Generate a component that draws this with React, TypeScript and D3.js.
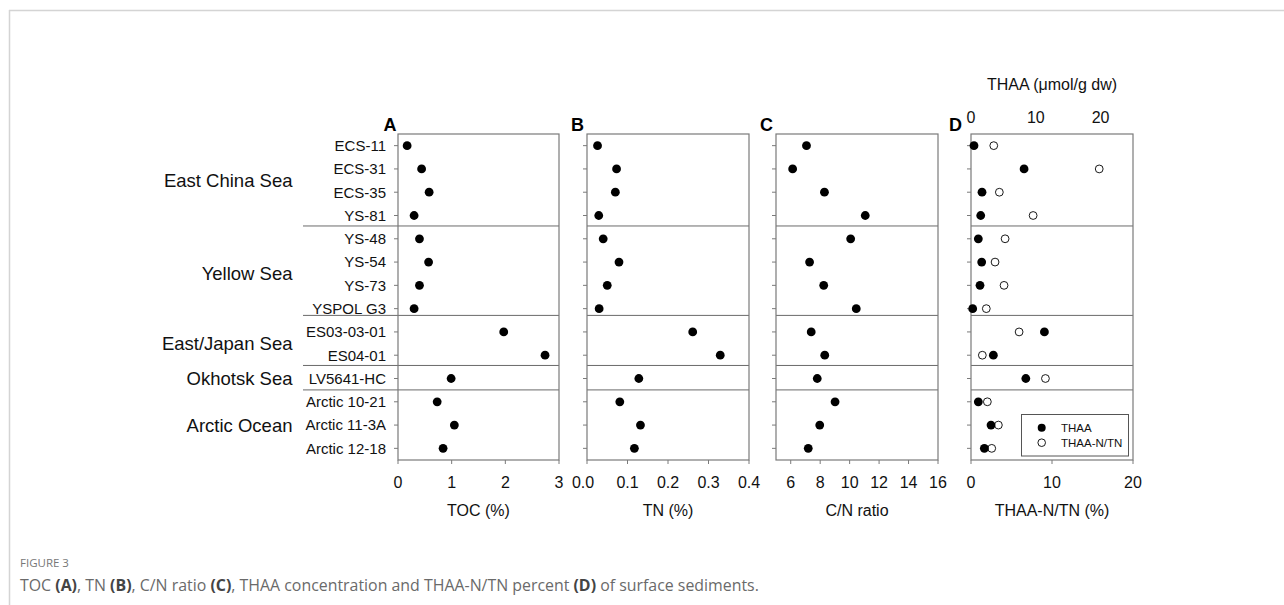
import React from "react";
import * as d3 from "d3";

const stations = [
  "ECS-11", "ECS-31", "ECS-35", "YS-81",
  "YS-48", "YS-54", "YS-73", "YSPOL G3",
  "ES03-03-01", "ES04-01",
  "LV5641-HC",
  "Arctic 10-21", "Arctic 11-3A", "Arctic 12-18",
];
const regionNames = ["East China Sea", "Yellow Sea", "East/Japan Sea", "Okhotsk Sea", "Arctic Ocean"];
const regionFirst = [0, 4, 8, 10, 11];
const regionLast = [3, 7, 9, 10, 13];
const separatorRows = [3.45, 7.29, 9.44, 10.49];

const tocValues = [0.17, 0.44, 0.58, 0.30, 0.40, 0.57, 0.40, 0.30, 1.97, 2.74, 0.99, 0.73, 1.05, 0.84];
const tnValues = [0.026, 0.073, 0.070, 0.029, 0.040, 0.079, 0.050, 0.030, 0.261, 0.329, 0.128, 0.081, 0.132, 0.117];
const cnValues = [7.07, 6.13, 8.29, 11.06, 10.07, 7.28, 8.24, 10.45, 7.39, 8.31, 7.80, 9.01, 7.97, 7.19];
const thaaValues = [0.46, 8.19, 1.70, 1.50, 1.13, 1.65, 1.39, 0.26, 11.33, 3.45, 8.46, 1.13, 3.09, 2.06];
const thaaNtnValues = [2.81, 15.83, 3.50, 7.67, 4.21, 2.97, 4.08, 1.89, 5.94, 1.40, 9.19, 2.02, 3.38, 2.56];

const tocTicks = [0, 1, 2, 3];
const tnTicks = [0, 0.1, 0.2, 0.3, 0.4];
const cnTicks = [6, 8, 10, 12, 14, 16];
const ntnTicks = [0, 10, 20];
const thaaTicks = [0, 10, 20];

const FONT = "'Liberation Sans', Arial, sans-serif";
const TOP = 134;
const BOTTOM = 460;
const FRAME = "#7a7a7a";
const SEP = "#6a6a6a";

type Panel = {
  letter: string;
  left: number;
  right: number;
  domain: [number, number];
  ticks: number[];
  fmt: (v: number) => string;
  title: string;
  values: number[];
  letterX: number;
  sepLeft: number;
};

export default function App() {
  const y = d3.scaleLinear().domain([-0.5, 13.5]).range([TOP, BOTTOM]);

  const panels: Panel[] = [
    { letter: "A", left: 398, right: 559, domain: [0, 3], ticks: tocTicks, fmt: d3.format("d"), title: "TOC (%)", values: tocValues, letterX: 396.5, sepLeft: 303 },
    { letter: "B", left: 587, right: 749, domain: [0, 0.4], ticks: tnTicks, fmt: d3.format(".1f"), title: "TN (%)", values: tnValues, letterX: 584, sepLeft: 587 },
    { letter: "C", left: 776, right: 938, domain: [5, 16], ticks: cnTicks, fmt: d3.format("d"), title: "C/N ratio", values: cnValues, letterX: 773, sepLeft: 776 },
    { letter: "D", left: 971, right: 1133, domain: [0, 20], ticks: ntnTicks, fmt: d3.format("d"), title: "THAA-N/TN (%)", values: [], letterX: 962, sepLeft: 971 },
  ];

  const dPanel = panels[3];
  const xTop = d3.scaleLinear().domain([0, 25]).range([dPanel.left, dPanel.right]);
  const xD = d3.scaleLinear().domain(dPanel.domain).range([dPanel.left, dPanel.right]);

  return (
    <svg width={1284} height={605} style={{ position: "absolute", left: 0, top: 0, background: "#fff" }} fontFamily={FONT}>
      {/* card border */}
      <line x1={9} x2={1284} y1={10.5} y2={10.5} stroke="#d4d4d4" strokeWidth={1.5} />
      <line x1={9.5} x2={9.5} y1={10} y2={605} stroke="#d4d4d4" strokeWidth={1.5} />

      {/* station labels */}
      {stations.map((s, i) => (
        <text key={s} x={386} y={y(i) + 5.3} textAnchor="end" fontSize={15} fill="#111">{s}</text>
      ))}
      {/* region labels */}
      {regionNames.map((r, i) => (
        <text key={r} x={292.5} y={(y(regionFirst[i]) + y(regionLast[i])) / 2 + 6.5} textAnchor="end" fontSize={18.5} fill="#111">{r}</text>
      ))}

      {panels.map((p, pi) => {
        const x = d3.scaleLinear().domain(p.domain).range([p.left, p.right]);
        const cx = (p.left + p.right) / 2;
        return (
          <g key={p.letter}>
            <text x={p.letterX} y={130.5} textAnchor="end" fontSize={18} fontWeight="bold" fill="#000">{p.letter}</text>
            {separatorRows.map((r, si) => (
              <line key={si} x1={p.sepLeft} x2={p.right} y1={y(r)} y2={y(r)} stroke={SEP} strokeWidth={1} />
            ))}
            <rect x={p.left} y={TOP} width={p.right - p.left} height={BOTTOM - TOP} fill="none" stroke={FRAME} strokeWidth={1.2} />
            {stations.map((s, i) => (
              <line key={s} x1={p.left - 4} x2={p.left} y1={y(i)} y2={y(i)} stroke={FRAME} strokeWidth={1} />
            ))}
            {p.ticks.map((t) => (
              <g key={t}>
                <line x1={x(t)} x2={x(t)} y1={BOTTOM} y2={BOTTOM + 4} stroke={FRAME} strokeWidth={1} />
                <text x={x(t) - (pi === 1 && t === 0 ? 4 : 0)} y={488} textAnchor="middle" fontSize={16} fill="#111">{p.fmt(t)}</text>
              </g>
            ))}
            <text x={cx} y={516} textAnchor="middle" fontSize={16} fill="#111">{p.title}</text>
            {p.values.map((v, i) => (
              <circle key={i} cx={x(v)} cy={y(i)} r={4.4} fill="#000" />
            ))}
          </g>
        );
      })}

      {/* panel D points */}
      {thaaNtnValues.map((v, i) => (
        <circle key={"o" + i} cx={xD(v)} cy={y(i)} r={3.9} fill="#fff" stroke="#000" strokeWidth={0.9} />
      ))}
      {thaaValues.map((v, i) => (
        <circle key={"f" + i} cx={xTop(v)} cy={y(i)} r={4.4} fill="#000" />
      ))}

      {/* panel D top axis */}
      {thaaTicks.map((t) => (
        <text key={t} x={xTop(t)} y={123} textAnchor="middle" fontSize={16} fill="#111">{t}</text>
      ))}
      <text x={(dPanel.left + dPanel.right) / 2} y={90} textAnchor="middle" fontSize={16} fill="#111">THAA (μmol/g dw)</text>

      {/* legend */}
      <rect x={1021.5} y={414.5} width={107} height={41.5} fill="#fff" stroke="#555" strokeWidth={1} />
      <circle cx={1041.7} cy={427.7} r={4} fill="#000" />
      <circle cx={1041.7} cy={442.7} r={3.8} fill="#fff" stroke="#000" strokeWidth={0.9} />
      <text x={1061} y={431.7} fontSize={11.5} fill="#111">THAA</text>
      <text x={1061} y={446.7} fontSize={11.5} fill="#111">THAA-N/TN</text>

      {/* caption */}
      <text x={20} y={567} fontSize={11.5} fill="#777" fontFamily="'Open Sans', sans-serif">FIGURE 3</text>
      <text x={20} y={591} fontSize={15.9} fill="#6a6a6a" fontFamily="'Open Sans', sans-serif">
        TOC <tspan fontWeight="bold" fill="#444">(A)</tspan>, TN <tspan fontWeight="bold" fill="#444">(B)</tspan>, C/N ratio <tspan fontWeight="bold" fill="#444">(C)</tspan>, THAA concentration and THAA-N/TN percent <tspan fontWeight="bold" fill="#444">(D)</tspan> of surface sediments.
      </text>
    </svg>
  );
}
